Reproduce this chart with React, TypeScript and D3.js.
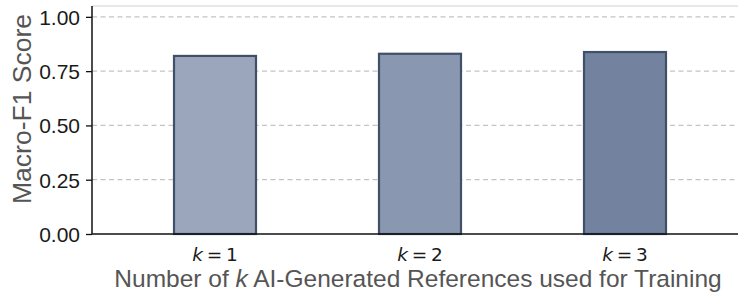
import React, { useEffect, useRef } from "react";
import * as d3 from "d3";

const kValues = ["1", "2", "3"];
const scores = [0.82, 0.83, 0.838];
const barColors = ["#9ba6bd", "#8a97b0", "#72829f"];
const yTicks = [0, 0.25, 0.5, 0.75, 1.0];

const App = () => {
  const ref = useRef<SVGSVGElement>(null);

  useEffect(() => {
    const width = 738,
      height = 292;
    const margin = { top: 6, left: 92, bottom: 58 };
    const sans = "Liberation Sans, Arial, sans-serif";

    const svg = d3.select(ref.current);
    svg.selectAll("*").remove();

    // positions -0.6..2.6 like matplotlib's categorical bar layout
    const x = d3.scaleLinear().domain([-0.6, 2.6]).range([margin.left, margin.left + 656]);
    const y = d3
      .scaleLinear()
      .domain([0, 1.05])
      .range([height - margin.bottom, margin.top]);

    // top spine (light)
    svg
      .append("line")
      .attr("x1", margin.left)
      .attr("x2", width)
      .attr("y1", margin.top)
      .attr("y2", margin.top)
      .attr("stroke", "#e0e0e0")
      .attr("stroke-width", 1.5);

    // dashed grid
    svg
      .selectAll(".grid")
      .data(yTicks.filter((d) => d > 0))
      .enter()
      .append("line")
      .attr("x1", margin.left)
      .attr("x2", width)
      .attr("y1", (d) => y(d))
      .attr("y2", (d) => y(d))
      .attr("stroke", "#c4c4c4")
      .attr("stroke-width", 1.2)
      .attr("stroke-dasharray", "5,3.5");

    // bars
    const bw = 0.4;
    svg
      .selectAll(".bar")
      .data(scores)
      .enter()
      .append("rect")
      .attr("x", (_d, i) => x(i - bw / 2))
      .attr("y", (d) => y(d))
      .attr("width", x(bw) - x(0))
      .attr("height", (d) => y(0) - y(d))
      .attr("fill", (_d, i) => barColors[i])
      .attr("stroke", "#405066")
      .attr("stroke-width", 2.2);

    // left axis
    const yAxis = svg
      .append("g")
      .attr("transform", `translate(${margin.left},0)`)
      .call(
        d3
          .axisLeft(y)
          .tickValues(yTicks)
          .tickFormat(d3.format(".2f"))
          .tickSize(6)
          .tickPadding(6)
      );
    yAxis.select(".domain").attr("stroke", "#111").attr("stroke-width", 1.5).attr("d", `M0,${y(0)}V${margin.top}`);
    yAxis.selectAll(".tick line").attr("stroke", "#111").attr("stroke-width", 1.3);
    yAxis
      .selectAll(".tick text")
      .attr("fill", "#1a1a1a")
      .attr("dy", "0.36em")
      .style("font-family", sans)
      .style("font-size", "21px");

    // bottom spine
    svg
      .append("line")
      .attr("x1", margin.left)
      .attr("x2", width)
      .attr("y1", y(0))
      .attr("y2", y(0))
      .attr("stroke", "#111")
      .attr("stroke-width", 1.5);

    // x tick labels: k = n
    const xl = svg
      .selectAll(".xlabel")
      .data(kValues)
      .enter()
      .append("text")
      .attr("x", (_d, i) => x(i))
      .attr("y", y(0) + 27)
      .attr("text-anchor", "middle")
      .attr("fill", "#1a1a1a")
      .style("font-family", "DejaVu Sans, sans-serif")
      .style("font-size", "18.5px");
    xl.append("tspan").style("font-style", "italic").text("k");
    xl.append("tspan").text((d) => `\u2009=\u2009${d}`);

    // x axis label
    const xt = svg
      .append("text")
      .attr("x", 418)
      .attr("y", height - 5)
      .attr("text-anchor", "middle")
      .attr("fill", "#555")
      .style("font-family", sans)
      .style("font-size", "24.5px");
    xt.append("tspan").text("Number of ");
    xt.append("tspan").style("font-style", "italic").text("k");
    xt.append("tspan").text(" AI-Generated References used for Training");

    // y axis label
    svg
      .append("text")
      .attr("transform", `translate(31,109) rotate(-90)`)
      .attr("text-anchor", "middle")
      .attr("fill", "#555")
      .style("font-family", sans)
      .style("font-size", "26.5px")
      .text("Macro-F1 Score");
  }, []);

  return <svg ref={ref} width={738} height={292} style={{ position: "absolute", left: 0, top: 0 }}></svg>;
};

export default App;
